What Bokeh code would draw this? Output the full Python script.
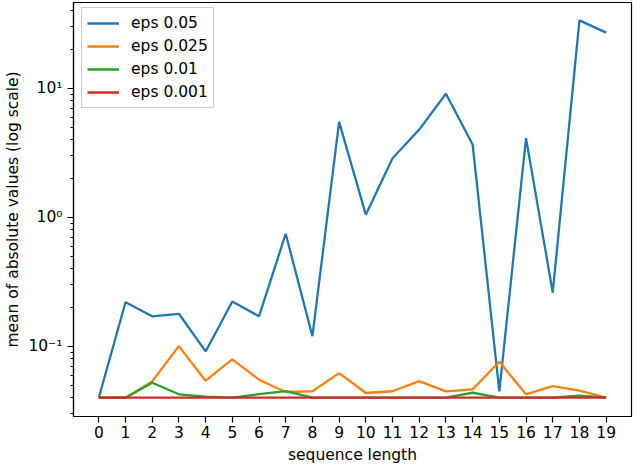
from bokeh.plotting import figure
from bokeh.models import Range1d, FixedTicker, CustomJSTickFormatter
from bokeh.embed import file_html
from bokeh.resources import INLINE

seq_len = list(range(20))
eps_0050 = [0.04, 0.22, 0.171, 0.179, 0.0914, 0.223, 0.171, 0.747, 0.12, 5.5,
            1.05, 2.88, 4.8, 9.1, 3.68, 0.0448, 4.12, 0.261, 33.7, 27.1]
eps_0025 = [0.04, 0.04, 0.0535, 0.1005, 0.0542, 0.0793, 0.0552, 0.0443, 0.0449, 0.062,
            0.0435, 0.0449, 0.0538, 0.0448, 0.0464, 0.076, 0.0425, 0.0492, 0.0454, 0.04]
eps_0010 = [0.04, 0.04, 0.0523, 0.0425, 0.0408, 0.04, 0.0426, 0.045, 0.04, 0.04,
            0.04, 0.04, 0.04, 0.04, 0.0437, 0.04, 0.04, 0.04, 0.0415, 0.04]
eps_0001 = [0.04, 0.04, 0.04, 0.04, 0.04, 0.04, 0.04, 0.04, 0.04, 0.04,
            0.04, 0.04, 0.04, 0.04, 0.04, 0.04, 0.04, 0.04, 0.04, 0.04]
labels = ["eps 0.05", "eps 0.025", "eps 0.01", "eps 0.001"]
colors = ["#1f77b4", "#ff7f0e", "#2ca02c", "#d62728"]

FONT = "DejaVu Sans"
FS = "15.5px"

p = figure(frame_width=558, frame_height=414, y_axis_type="log",
           x_range=Range1d(-0.948, 19.95), y_range=Range1d(0.0286, 46.4),
           output_backend="svg", toolbar_location=None,
           min_border_left=73, min_border_right=8, min_border_top=2, min_border_bottom=52)

for ys, lab, c in zip([eps_0050, eps_0025, eps_0010, eps_0001], labels, colors):
    p.line(seq_len, ys, line_color=c, line_width=2.3, legend_label=lab)

p.xgrid.visible = False
p.ygrid.visible = False
p.outline_line_color = "black"
p.outline_line_alpha = 1
p.outline_line_width = 1.2

p.xaxis.ticker = FixedTicker(ticks=seq_len)
p.xaxis.minor_tick_line_color = None
minors = [0.03, 0.04, 0.05, 0.06, 0.07, 0.08, 0.09,
          0.2, 0.3, 0.4, 0.5, 0.6, 0.7, 0.8, 0.9,
          2, 3, 4, 5, 6, 7, 8, 9, 20, 30, 40]
p.yaxis.ticker = FixedTicker(ticks=[0.1, 1, 10], minor_ticks=minors)
p.yaxis.formatter = CustomJSTickFormatter(code="""
const e = Math.round(Math.log10(tick));
const sup = {"-1": "\u207b\u00b9", "0": "\u2070", "1": "\u00b9"};
return "10" + sup[String(e)];
""")

for ax in [p.xaxis[0], p.yaxis[0]]:
    ax.axis_line_color = "black"
    ax.axis_line_width = 1.2
    ax.major_tick_line_color = "black"
    ax.major_tick_line_width = 1.2
    ax.minor_tick_line_width = 1
    ax.major_tick_out = 6
    ax.major_tick_in = 0
    ax.minor_tick_out = 3
    ax.minor_tick_in = 0
    ax.major_label_text_font = FONT
    ax.major_label_text_font_size = FS
    ax.major_label_text_color = "black"
    ax.axis_label_text_font = FONT
    ax.axis_label_text_font_size = FS
    ax.axis_label_text_font_style = "normal"
    ax.axis_label_text_color = "black"

p.yaxis.minor_tick_line_color = "black"
p.xaxis.axis_label = "sequence length"
p.yaxis.axis_label = "mean of absolute values (log scale)"
p.xaxis.major_label_standoff = 3
p.yaxis.major_label_standoff = 5
p.yaxis.axis_label_standoff = 3
p.xaxis.axis_label_standoff = 5

lg = p.legend[0]
lg.location = (8, 308)
lg.margin = 0
lg.padding = 5
lg.spacing = 3
lg.glyph_width = 32
lg.glyph_height = 20
lg.label_height = 20
lg.label_standoff = 12
lg.label_text_font = FONT
lg.label_text_font_size = FS
lg.label_text_color = "black"
lg.border_line_color = "#cccccc"
lg.border_line_alpha = 1
lg.background_fill_color = "white"
lg.background_fill_alpha = 0.8

open("out.html", "w").write(file_html(p, INLINE))
